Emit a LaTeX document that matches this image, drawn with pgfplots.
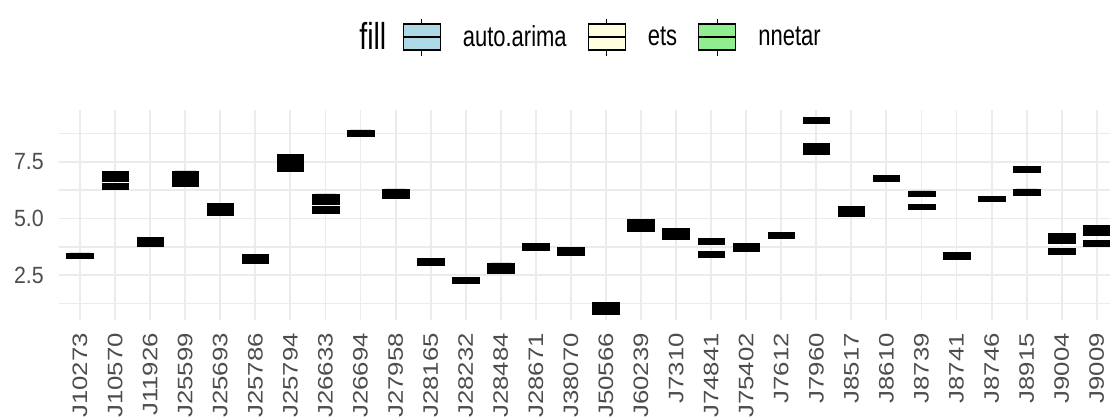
\documentclass[border=0pt]{standalone}
\usepackage{pgfplots}
\pgfplotsset{compat=1.18}
\usepgfplotslibrary{statistics}
\usepackage{fontspec}
\setmainfont{Liberation Sans}
\newfontfamily\legfont[FakeStretch=0.76]{Liberation Sans}
\newfontfamily\ytfont[FakeStretch=0.91]{Liberation Sans}
\newfontfamily\xtfont[FakeStretch=1.23]{Liberation Sans}
\definecolor{gridc}{HTML}{EBEBEB}
\definecolor{txtc}{HTML}{4D4D4D}
\definecolor{arimac}{HTML}{ADD8E6}
\definecolor{etsc}{HTML}{FFFFE0}
\definecolor{nnetarc}{HTML}{90EE90}
% one black box: category position, lower edge, upper edge
\newcommand{\seg}[3]{\addplot[forget plot, fill=black, draw=none,
  boxplot/draw direction=y,
  boxplot prepared={draw position=#1, lower whisker=#2, lower quartile=#2,
  median=#2, upper quartile=#3, upper whisker=#3, box extend=0.76}] coordinates {};}
\pgfplotsset{boxkey/.style={legend image code/.code={
  \draw[black, line width=0.9pt, fill=#1] (0pt,-9.75pt) rectangle (27.75pt,9.75pt);
  \draw[black, line width=0.9pt] (0pt,0pt) -- (27.75pt,0pt);
  \draw[black, line width=0.9pt] (13.875pt,9.75pt) -- (13.875pt,13.5pt);
  \draw[black, line width=0.9pt] (13.875pt,-9.75pt) -- (13.875pt,-14.25pt);}}}
\begin{document}
\begin{tikzpicture}
\useasboundingbox (0,0) rectangle (832.5pt,312.75pt);
\clip (0,0) rectangle (832.5pt,312.75pt);
\begin{axis}[
  at={(44.25pt,72.75pt)}, anchor=south west,
  scale only axis, width=794.1pt, height=157.5pt,
  xmin=-0.6, xmax=29.6, ymin=0.53, ymax=9.78,
  axis line style={draw=none}, tick style={draw=none},
  xtick={0,...,29},
  xticklabels={J10273,J10570,J11926,J25599,J25693,J25786,J25794,J26633,J26694,J27958,J28165,J28232,J28484,J28671,J38070,J50566,J60239,J7310,J74841,J75402,J7612,J7960,J8517,J8610,J8739,J8741,J8746,J8915,J9004,J9009},
  xticklabel style={rotate=90, anchor=east, inner sep=0pt, text=txtc, font=\xtfont\fontsize{15.7}{18}\selectfont},
  xticklabel shift=9.75pt,
  ytick={2.5,5,7.5}, yticklabels={2.5,5.0,7.5},
  minor ytick={1.25,3.75,6.25,8.75},
  yticklabel style={anchor=east, inner sep=0pt, text=txtc, font=\ytfont\fontsize{17.6}{21}\selectfont},
  yticklabel shift=11.25pt,
  xmajorgrids, ymajorgrids, yminorgrids,
  major grid style={gridc, line width=1.4pt},
  minor grid style={gridc, line width=1.1pt},
  legend columns=4,
  legend style={draw=none, fill=none, at={(0.7235,1.345)}, anchor=east,
    nodes={inner sep=0pt},
    /tikz/every odd column/.append style={column sep=16.5pt},
    /tikz/every even column/.append style={column sep=15.75pt},
    font=\legfont\fontsize{21.7}{26}\selectfont},
  legend cell align=left,
]
\seg{0}{3.24}{3.49}
\seg{1}{6.31}{6.55}
\seg{1}{6.62}{7.06}
\seg{2}{3.79}{4.18}
\seg{3}{6.40}{6.80}
\seg{3}{6.87}{7.10}
\seg{4}{5.14}{5.68}
\seg{5}{3.05}{3.43}
\seg{6}{7.06}{7.28}
\seg{6}{7.35}{7.83}
\seg{7}{5.24}{5.52}
\seg{7}{5.64}{6.08}
\seg{8}{8.62}{8.90}
\seg{9}{5.87}{6.31}
\seg{10}{2.95}{3.23}
\seg{11}{2.13}{2.41}
\seg{12}{2.57}{3.05}
\seg{13}{3.58}{3.92}
\seg{14}{3.39}{3.73}
\seg{15}{0.80}{1.29}
\seg{16}{4.42}{4.96}
\seg{17}{4.08}{4.57}
\seg{18}{3.87}{4.11}
\seg{18}{3.30}{3.54}
\seg{19}{3.54}{3.92}
\seg{20}{4.13}{4.40}
\seg{21}{9.20}{9.44}
\seg{21}{7.84}{8.32}
\seg{22}{5.09}{5.54}
\seg{23}{6.66}{6.90}
\seg{24}{5.98}{6.22}
\seg{24}{5.40}{5.62}
\seg{25}{3.20}{3.52}
\seg{26}{5.74}{5.98}
\seg{27}{7.05}{7.30}
\seg{27}{6.02}{6.31}
\seg{28}{3.93}{4.36}
\seg{28}{3.43}{3.69}
\seg{29}{4.28}{4.70}
\seg{29}{3.77}{4.04}
\addlegendimage{empty legend}
\addlegendentry{\fontsize{28.1}{33}\selectfont fill\hspace*{-3.5pt}}
\addlegendimage{boxkey=arimac}
\addlegendentry{auto.arima}
\addlegendimage{boxkey=etsc}
\addlegendentry{ets}
\addlegendimage{boxkey=nnetarc}
\addlegendentry{nnetar}
\end{axis}
\end{tikzpicture}
\end{document}
